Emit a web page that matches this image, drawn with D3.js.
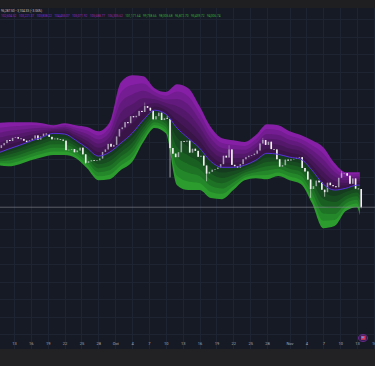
<!DOCTYPE html>
<html>
<head>
<meta charset="utf-8">
<script src="https://cdn.jsdelivr.net/npm/d3@7"></script>
<style>
  html, body { margin: 0; padding: 0; background: #161a25; }
  svg { display: block; }
</style>
</head>
<body>
<svg id="mainsvg" width="375" height="366"></svg>
<script>
// ---- data (prices in thousands) ----
const candleStart = '2025-09-10T12:00:00Z'; // 12h candles, open = previous close
const closes = [
  114.0,
  114.6, 115.5, 115.2, 116.1, 116.3, 115.9, 115.8, 115.3, 114.9, 115.4,
  115.9, 116.8, 115.6, 116.5, 117.3, 117.1, 116.4, 115.7, 115.9, 115.7,
  115.6, 115.3, 112.6, 112.7, 112.9, 112.0, 112.5, 113.3, 111.4, 109.0,
  109.4, 109.7, 109.5, 109.7, 110.2, 112.1, 112.8, 114.4, 113.6, 114.1,
  116.5, 118.6, 119.1, 120.6, 120.3, 122.3, 122.0, 122.4, 123.8, 123.5,
  125.2, 124.7, 123.9, 121.4, 122.3, 123.3, 121.2, 121.7, 121.5, 113.2,
  111.6, 110.6, 112.0, 115.2, 115.0, 115.3, 111.9, 113.0, 112.4, 110.7,
  111.0, 108.2, 105.9, 106.4, 107.0, 107.2, 107.6, 108.6, 111.0, 110.5,
  112.8, 108.4, 108.0, 107.6, 108.6, 110.0, 110.6, 111.0, 111.2, 111.6,
  112.5, 114.5, 115.5, 114.1, 115.0, 112.9, 112.8, 110.0, 107.9, 108.3,
  109.9, 109.6, 110.0, 110.1, 110.4, 110.6, 107.5, 106.5, 104.2, 101.5,
  102.3, 103.9, 103.4, 101.3, 100.6, 103.3, 102.6, 102.3, 102.0, 104.7,
  106.0, 106.0, 105.3, 103.0, 104.5, 101.6, 101.5, 96.3
];
const firstOpen = 113.2;
const wickHighs = [
  ['2025-10-06T00:00:00Z', 126.2], ['2025-10-10T00:00:00Z', 122.5],
  ['2025-10-21T00:00:00Z', 114.0], ['2025-10-27T00:00:00Z', 116.1],
  ['2025-11-10T00:00:00Z', 106.6]
];
const wickLows = [
  ['2025-09-25T12:00:00Z', 108.7], ['2025-10-10T12:00:00Z', 104.8],
  ['2025-10-17T00:00:00Z', 103.7], ['2025-11-04T12:00:00Z', 99.0],
  ['2025-11-07T00:00:00Z', 99.3], ['2025-11-13T12:00:00Z', 96.0]
];

const bandDates = [
  '2025-09-10', '2025-09-12', '2025-09-14', '2025-09-16', '2025-09-18', '2025-09-20',
  '2025-09-22', '2025-09-24', '2025-09-26', '2025-09-28', '2025-09-30', '2025-10-02',
  '2025-10-04', '2025-10-06', '2025-10-08', '2025-10-10', '2025-10-12', '2025-10-14',
  '2025-10-16', '2025-10-18', '2025-10-20', '2025-10-22', '2025-10-24', '2025-10-26',
  '2025-10-28', '2025-10-30', '2025-11-01', '2025-11-03', '2025-11-05', '2025-11-07',
  '2025-11-09', '2025-11-11', '2025-11-13', '2025-11-13T12:00'
];
const midLine = [
  111.7, 112.9, 114.0, 115.2, 116.3, 117.4, 117.2, 115.4, 113.2, 110.9, 112.0, 114.6,
  117.4, 121.2, 124.0, 122.9, 118.9, 116.0, 113.2, 109.4, 107.7, 107.7, 108.3, 109.7,
  111.7, 111.4, 110.6, 110.0, 106.9, 102.9, 101.2, 101.7, 102.6, 102.6
];
const upperEdge = [
  120.3, 120.6, 120.6, 120.6, 120.3, 119.7, 120.3, 119.7, 119.2, 118.0, 120.6, 132.0,
  134.0, 133.7, 130.3, 129.2, 131.4, 130.3, 125.2, 119.2, 116.0, 115.4, 114.9, 116.9,
  120.0, 119.7, 118.0, 116.9, 115.4, 113.4, 108.9, 106.3, 106.3, 106.3
];
const lowerEdge = [
  108.3, 108.0, 108.6, 109.7, 110.6, 111.2, 111.2, 110.3, 107.4, 104.0, 104.3, 106.9,
  109.2, 114.9, 118.9, 117.4, 102.6, 101.2, 101.2, 98.9, 98.6, 101.2, 104.0, 104.6,
  104.3, 105.2, 104.0, 102.9, 97.4, 90.3, 90.9, 95.2, 96.3, 94.0
];

const tickDates = [
  '2025-09-13', '2025-09-16', '2025-09-19', '2025-09-22', '2025-09-25', '2025-09-28',
  '2025-10-01', '2025-10-04', '2025-10-07', '2025-10-10', '2025-10-13', '2025-10-16',
  '2025-10-19', '2025-10-22', '2025-10-25', '2025-10-28', '2025-11-01', '2025-11-04',
  '2025-11-07', '2025-11-10', '2025-11-13', '2025-11-16'
];
const tickLabels = ['13', '16', '19', '22', '25', '28', 'Oct', '4', '7', '10', '13', '16',
  '19', '22', '25', '28', 'Nov', '4', '7', '10', '13', '16'];
const priceGrid = [60, 65, 70, 75, 80, 85, 90, 95, 100, 105, 110, 115, 120, 125, 130, 135, 140, 145, 150];

const lastPrice = 96.3;
const headerLine = '96,287.50 \u22123,104.33 (\u22123.06%)';
const upperValues = ['102,604.52', '103,221.37', '103,838.22', '104,455.07', '105,071.92', '105,688.77', '106,305.62'];
const lowerValues = ['101,171.64', '99,738.66', '98,305.68', '96,872.70', '95,439.72', '94,006.74'];

const purpleLayers = ['#861fa6', '#741c91', '#631a7d', '#531869', '#451657', '#381546'];
const greenLayers = ['#2b9c2d', '#248729', '#1e7225', '#1a5f22', '#174c20', '#153c1f'];

// ---- layout ----
const svg = d3.select('#mainsvg');
const width = +svg.attr('width');
const height = +svg.attr('height');
const plotTop = 8;
const plotBottom = 349;

const parseDay = s => new Date(s.length > 10 ? s + (s.endsWith('Z') ? '' : ':00Z') : s + 'T00:00:00Z');

const xScale = d3.scaleUtc()
  .domain([parseDay('2025-09-13'), parseDay('2025-11-13')])
  .range([14, 357]);
const yScale = d3.scaleLinear()
  .domain([55.8, 153.2])
  .range([plotBottom, plotTop]);

svg.append('rect').attr('width', width).attr('height', height).attr('fill', '#161a25');
svg.append('rect').attr('width', width).attr('height', plotTop).attr('fill', '#1f1f22');
svg.append('rect').attr('y', plotBottom).attr('width', width).attr('height', height - plotBottom).attr('fill', '#222224');

svg.append('clipPath').attr('id', 'plotclip')
  .append('rect').attr('x', 0).attr('y', plotTop).attr('width', width).attr('height', plotBottom - plotTop);

const g = svg.append('g').attr('clip-path', 'url(#plotclip)');

// grid
const grid = g.append('g').attr('stroke', '#1f2433').attr('stroke-width', 1);
grid.selectAll('.vg').data(tickDates).join('line')
  .attr('x1', d => Math.round(xScale(parseDay(d))) + 0.5)
  .attr('x2', d => Math.round(xScale(parseDay(d))) + 0.5)
  .attr('y1', plotTop).attr('y2', plotBottom);
grid.selectAll('.hg').data(priceGrid).join('line')
  .attr('x1', 0).attr('x2', width)
  .attr('y1', d => Math.round(yScale(d)) + 0.5)
  .attr('y2', d => Math.round(yScale(d)) + 0.5);

// bands
const bands = bandDates.map((d, i) => ({
  date: parseDay(d), mid: midLine[i], up: upperEdge[i], lo: lowerEdge[i]
}));
const nLayers = purpleLayers.length;
for (let k = nLayers; k >= 1; k--) {
  const f = k / nLayers;
  const upArea = d3.area()
    .x(d => xScale(d.date))
    .y0(d => yScale(d.mid))
    .y1(d => yScale(d.mid + (d.up - d.mid) * f))
    .curve(d3.curveMonotoneX);
  const loArea = d3.area()
    .x(d => xScale(d.date))
    .y0(d => yScale(d.mid))
    .y1(d => yScale(d.mid - (d.mid - d.lo) * f))
    .curve(d3.curveMonotoneX);
  g.append('path').datum(bands).attr('d', upArea).attr('fill', purpleLayers[nLayers - k]);
  g.append('path').datum(bands).attr('d', loArea).attr('fill', greenLayers[nLayers - k]);
}

// candles
const t0 = new Date(candleStart).getTime();
const hiMap = new Map(wickHighs.map(([d, v]) => [new Date(d).getTime(), v]));
const loMap = new Map(wickLows.map(([d, v]) => [new Date(d).getTime(), v]));
const candles = closes.map((c, i) => {
  const t = t0 + i * 12 * 3600e3;
  const o = i === 0 ? firstOpen : closes[i - 1];
  return {
    t: new Date(t + 6 * 3600e3),
    o, c,
    h: Math.max(o, c, hiMap.get(t) || 0),
    l: Math.min(o, c, loMap.get(t) || Infinity)
  };
});
const bodyW = 1.6;
const cg = g.append('g');
cg.selectAll('.wick').data(candles).join('line')
  .attr('x1', d => xScale(d.t)).attr('x2', d => xScale(d.t))
  .attr('y1', d => yScale(d.h)).attr('y2', d => yScale(d.l))
  .attr('stroke', d => d.c >= d.o ? 'rgba(205,205,215,0.6)' : '#f2f2f2')
  .attr('stroke-width', 0.6);
cg.selectAll('.body').data(candles).join('rect')
  .attr('x', d => xScale(d.t) - bodyW / 2)
  .attr('width', bodyW)
  .attr('y', d => yScale(Math.max(d.o, d.c)))
  .attr('height', d => Math.max(0.6, Math.abs(yScale(d.o) - yScale(d.c))))
  .attr('fill', d => d.c >= d.o ? 'rgba(205,205,215,0.6)' : '#f2f2f2');

// middle line
g.append('path').datum(bands)
  .attr('d', d3.line().x(d => xScale(d.date)).y(d => yScale(d.mid)).curve(d3.curveMonotoneX))
  .attr('fill', 'none').attr('stroke', '#5a2fe0').attr('stroke-width', 1);

// last price line
g.append('line')
  .attr('x1', 0).attr('x2', width)
  .attr('y1', yScale(lastPrice)).attr('y2', yScale(lastPrice))
  .attr('stroke', '#8a8d96').attr('stroke-opacity', 0.75).attr('stroke-width', 0.8);

// time axis
const xAxis = d3.axisBottom(xScale)
  .tickValues(tickDates.map(parseDay))
  .tickFormat((d, i) => tickLabels[i])
  .tickSize(0).tickPadding(0);
const ax = svg.append('g').attr('transform', `translate(0, ${342.3})`).call(xAxis);
ax.select('.domain').remove();
ax.selectAll('text').attr('fill', '#a6a9b2').attr('font-size', 4)
  .attr('font-family', 'Roboto, sans-serif');

// event marker bottom right
const mk = svg.append('g').attr('transform', 'translate(363, 338)');
mk.append('ellipse').attr('rx', 4.6).attr('ry', 3.6).attr('fill', '#3b1a55').attr('stroke', '#6d2f96').attr('stroke-width', 0.8);
mk.append('rect').attr('x', -2).attr('y', -2.2).attr('width', 4.6).attr('height', 4).attr('fill', '#d83a5a');
mk.append('rect').attr('x', -1.2).attr('y', -1.6).attr('width', 2).attr('height', 1.8).attr('fill', '#6f8fe8');

// header texts
svg.append('text').text(headerLine)
  .attr('x', 1).attr('y', 12.3)
  .attr('font-size', 3.1).attr('font-family', 'Roboto, sans-serif').attr('fill', '#c9ccd4');
const legend = svg.append('g').attr('font-size', 3.1).attr('font-family', 'Roboto, sans-serif');
let cursor = 1;
upperValues.map(v => ({ v, c: '#9a2bc4' })).concat(lowerValues.map(v => ({ v, c: '#2fb83a' })))
  .forEach(item => {
    const t = legend.append('text').text(item.v).attr('x', cursor).attr('y', 17).attr('fill', item.c);
    cursor += t.node().getComputedTextLength() + 2.4;
  });
</script>
</body>
</html>
